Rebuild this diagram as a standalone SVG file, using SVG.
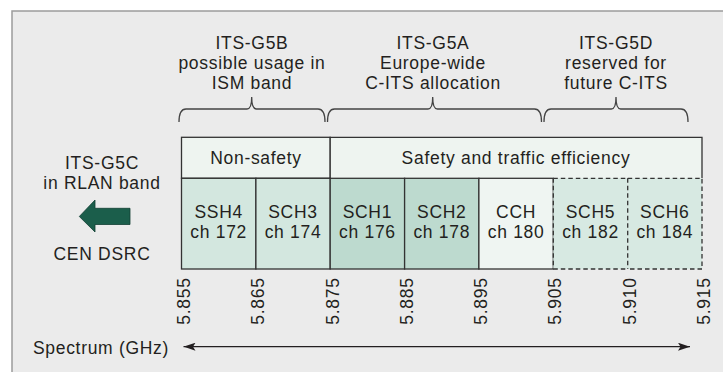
<svg xmlns="http://www.w3.org/2000/svg" width="723" height="372" viewBox="0 0 723 372">
<defs>
<style>
text{font-family:"Liberation Sans",Arial,sans-serif;font-size:17.5px;letter-spacing:0.7px;fill:#231f20;text-anchor:middle}
.cell{stroke:#333;stroke-width:1.3}
.dash{stroke:#333;stroke-width:1.3;stroke-dasharray:4.5 3;fill:none}
.brace{fill:none;stroke:#444;stroke-width:1.3}
</style>
<marker id="ah" viewBox="0 0 12 8" refX="12" refY="4" markerWidth="12" markerHeight="8" markerUnits="userSpaceOnUse" orient="auto-start-reverse">
<path d="M0,0 L12,4 L0,8 L2.5,4 Z" fill="#231f20"/>
</marker>
</defs>
<rect x="0" y="0" width="723" height="372" fill="#ffffff"/>
<rect id="panel" x="12" y="11" width="720" height="370" fill="#ebebeb" stroke="#9c9c9c" stroke-width="1.5"/>

<g id="label-g5b">
<path class="brace" d="M179,122 Q179,109 186,109 H247 Q251.7,109 251.7,97 Q251.7,109 256.4,109 H318 Q325,109 325,122"/>
<text x="252" y="49.3">ITS-G5B<tspan x="252" dy="20">possible usage in</tspan><tspan x="252" dy="20">ISM band</tspan></text>
</g>
<g id="label-g5a">
<path class="brace" d="M327.5,122 Q327.5,109 334.5,109 H428 Q432.7,109 432.7,97 Q432.7,109 437.4,109 H534.5 Q541.5,109 541.5,122"/>
<text x="433" y="49.3">ITS-G5A<tspan x="433" dy="20">Europe-wide</tspan><tspan x="433" dy="20">C-ITS allocation</tspan></text>
</g>
<g id="label-g5d">
<path class="brace" d="M544,122 Q544,109 551,109 H611.3 Q616,109 616,97 Q616,109 620.7,109 H681 Q688,109 688,122"/>
<text x="616" y="49.3">ITS-G5D<tspan x="616" dy="20">reserved for</tspan><tspan x="616" dy="20">future C-ITS</tspan></text>
</g>

<g id="label-g5c">
<text x="102" y="169.3">ITS-G5C<tspan x="102" dy="19.8">in RLAN band</tspan></text>
<path d="M79.3,216.5 L95,200 L95,208.3 L130,208.3 L130,224.5 L95,224.5 L95,232 Z" fill="#1b5e4b" stroke="#123f33" stroke-width="0.8"/>
<text x="102" y="260">CEN DSRC</text>
</g>

<g id="header-nonsafety">
<rect class="cell" x="181.5" y="137.3" width="148.7" height="41" fill="#eef4f0"/>
<text x="256" y="163.5">Non-safety</text>
</g>
<g id="header-safety">
<rect x="330.2" y="137.3" width="371.8" height="41" fill="#eef4f0"/>
<path class="cell" d="M330.2,178.3 V137.3 H702 V178.3" fill="none"/>
<text x="516" y="163.5">Safety and traffic efficiency</text>
</g>

<g id="ch-ssh4">
<rect class="cell" x="181.5" y="178.3" width="74.4" height="90.7" fill="#d3e7df"/>
<text x="218.7" y="218.3">SSH4<tspan x="218.7" dy="20">ch 172</tspan></text>
</g>
<g id="ch-sch3">
<rect class="cell" x="255.9" y="178.3" width="74.3" height="90.7" fill="#d3e7df"/>
<text x="293" y="218.3">SCH3<tspan x="293" dy="20">ch 174</tspan></text>
</g>
<g id="ch-sch1">
<rect class="cell" x="330.2" y="178.3" width="74.4" height="90.7" fill="#bddacf"/>
<text x="367.4" y="218.3">SCH1<tspan x="367.4" dy="20">ch 176</tspan></text>
</g>
<g id="ch-sch2">
<rect class="cell" x="404.6" y="178.3" width="74.3" height="90.7" fill="#bddacf"/>
<text x="441.8" y="218.3">SCH2<tspan x="441.8" dy="20">ch 178</tspan></text>
</g>
<g id="ch-cch">
<rect class="cell" x="478.9" y="178.3" width="74.4" height="90.7" fill="#eff5f2"/>
<text x="516.1" y="218.3">CCH<tspan x="516.1" dy="20">ch 180</tspan></text>
</g>
<g id="ch-sch5">
<rect x="553.3" y="178.3" width="74.4" height="90.7" fill="#d7e9e2"/>
<path class="dash" d="M553.3,178.3 H627.7 M553.3,269 H627.7 M553.3,178.3 V269"/>
<text x="590.5" y="218.3">SCH5<tspan x="590.5" dy="20">ch 182</tspan></text>
</g>
<g id="ch-sch6">
<rect x="627.7" y="178.3" width="74.3" height="90.7" fill="#d7e9e2"/>
<path class="dash" d="M627.7,178.3 H702 V269 H627.7 M627.7,178.3 V269"/>
<text x="664.8" y="218.3">SCH6<tspan x="664.8" dy="20">ch 184</tspan></text>
</g>

<g id="ticks">
<text transform="translate(190,301) rotate(-90)">5.855</text>
<text transform="translate(264,301) rotate(-90)">5.865</text>
<text transform="translate(338.5,301) rotate(-90)">5.875</text>
<text transform="translate(412.5,301) rotate(-90)">5.885</text>
<text transform="translate(487,301) rotate(-90)">5.895</text>
<text transform="translate(561.3,301) rotate(-90)">5.905</text>
<text transform="translate(635.7,301) rotate(-90)">5.910</text>
<text transform="translate(710.3,301) rotate(-90)">5.915</text>
</g>

<g id="connectors">
<line x1="183.5" y1="346.7" x2="690" y2="346.7" stroke="#231f20" stroke-width="1.3" marker-start="url(#ah)" marker-end="url(#ah)"/>
</g>
<g id="axis-label">
<text x="101" y="354.3">Spectrum (GHz)</text>
</g>
</svg>
